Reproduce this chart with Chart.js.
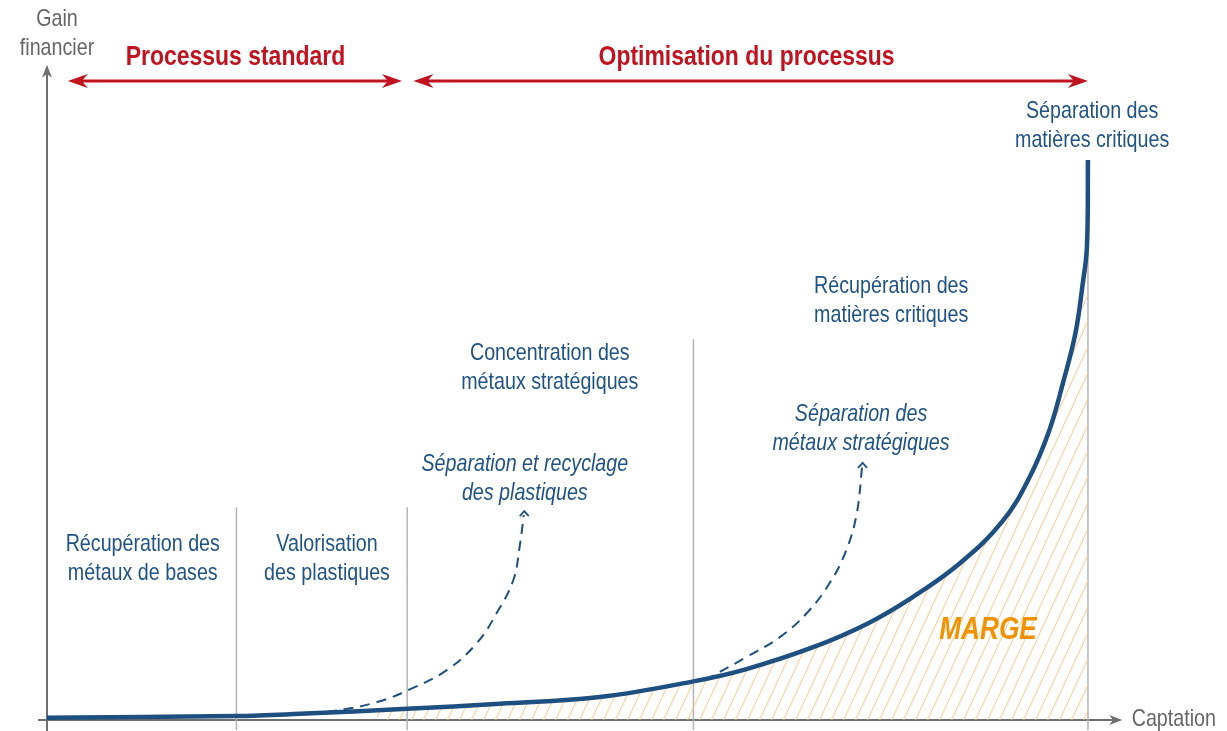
<!DOCTYPE html>
<html>
<head>
<meta charset="utf-8">
<script src="https://cdn.jsdelivr.net/npm/chart.js@4.4.0/dist/chart.umd.min.js"></script>
<style>
  html, body { margin: 0; padding: 0; background: #fff; }
</style>
</head>
<body>
<canvas id="Chart" width="1227" height="731"></canvas>
<script>
// Main curve: captation (x) vs gain financier (y), arbitrary units 0-100
const captation = [0, 18.2, 24.3, 34.6, 43.5, 53.1, 62.1, 67.2, 73.6, 78.8, 83.2, 87.7, 91.8, 94.4, 96.3, 97.6, 98.8, 99.5, 99.9, 100];
const gain      = [0.4, 0.7, 1.1, 2.0, 2.9, 4.1, 6.9, 9.1, 13.0, 17.2, 22.0, 28.0, 35.5, 43.4, 51.8, 60.2, 69.1, 78.0, 84.5, 100];

// Margin (hatched) area starts a bit before the 2nd phase boundary
const margeStart = { x: 31.7, y: 1.7 };

// Dashed branches (plastics / strategic metals)
const plastiquesX = [23.6, 27.5, 31.7, 34.9, 38.4, 41.3, 43.2, 44.8, 45.4, 45.8];
const plastiquesY = [1.1, 1.6, 3.2, 5.5, 8.9, 13.75, 19.1, 25.0, 30.9, 36.6];
const metauxX = [63.2, 67.2, 70.4, 73.0, 75.2, 76.8, 77.8, 78.3];
const metauxY = [7.1, 11.25, 14.8, 19.1, 24.5, 30.4, 37.0, 45.2];

// Phase boundaries (vertical separators) and their heights
const phaseBounds = [18.2, 34.6, 62.1, 100];
const phaseTops   = [38, 38, 68, 84];

// Texts
const axisY = ['Gain', 'financier'];
const axisX = 'Captation';
const phases = ['Processus standard', 'Optimisation du processus'];
const steps = [
  ['Récupération des', 'métaux de bases'],
  ['Valorisation', 'des plastiques'],
  ['Concentration des', 'métaux stratégiques'],
  ['Récupération des', 'matières critiques'],
  ['Séparation des', 'matières critiques']
];
const branches = [
  ['Séparation et recyclage', 'des plastiques'],
  ['Séparation des', 'métaux stratégiques']
];
const margeLabel = 'MARGE';

// ---- layout (data coordinates) ----
const stepPos   = [[9.2, 31.4], [26.9, 31.4], [48.3, 65.5], [81.1, 77.5], [100.4, 108.6]];
const branchPos = [[45.9, 45.7], [78.2, 54.6]];
const phasePos  = [[18.1, 118.4], [67.2, 118.4]];
const phaseArrows = [[2.0, 34.1], [35.2, 100]];

const FONT = '"Liberation Sans", Arial, sans-serif';
const NARROW = 0.82; // Arial Narrow look
const BLUE = '#1d4f80';
const TEXT_BLUE = '#1f5285';
const RED = '#c1121f';
const GRAY = '#6f6f6f';
const ORANGE = '#f39200';

const toPts = (xs, ys) => xs.map((x, i) => ({ x: x, y: ys[i] }));

function hatchPattern() {
  const c = document.createElement('canvas');
  c.width = 12; c.height = 26;
  const g = c.getContext('2d');
  g.strokeStyle = '#fac88a';
  g.lineWidth = 1;
  [-12, 0, 12].forEach(dx => {
    g.beginPath();
    g.moveTo(dx, 26);
    g.lineTo(dx + 12, 0);
    g.stroke();
  });
  return g.createPattern(c, 'repeat');
}

function stealth(ctx, x, y, angle, len, half) {
  ctx.save();
  ctx.translate(x, y);
  ctx.rotate(angle);
  ctx.beginPath();
  ctx.moveTo(0, 0);
  ctx.lineTo(-len, -half);
  ctx.lineTo(-len * 0.7, 0);
  ctx.lineTo(-len, half);
  ctx.closePath();
  ctx.fill();
  ctx.restore();
}

function narrowText(ctx, text, x, y, align) {
  ctx.save();
  ctx.translate(x, y);
  ctx.scale(NARROW, 1);
  ctx.textAlign = align || 'center';
  ctx.fillText(text, 0, 0);
  ctx.restore();
}

const schemaPlugin = {
  id: 'schema',
  beforeDatasetsDraw(chart) {
    const ctx = chart.ctx;
    const x = chart.scales.x, y = chart.scales.y;
    const x0 = x.getPixelForValue(0), y0 = y.getPixelForValue(0);
    ctx.save();
    ctx.strokeStyle = GRAY;
    ctx.fillStyle = GRAY;
    ctx.lineWidth = 2;
    // y axis
    const yTip = y.getPixelForValue(117);
    ctx.beginPath();
    ctx.moveTo(x0, y0 + 11);
    ctx.lineTo(x0, yTip + 8);
    ctx.stroke();
    stealth(ctx, x0, yTip, -Math.PI / 2, 13, 5);
    // x axis
    const xTip = x.getPixelForValue(103) + 3;
    ctx.beginPath();
    ctx.moveTo(x0 - 9, y0);
    ctx.lineTo(xTip - 8, y0);
    ctx.stroke();
    stealth(ctx, xTip, y0, 0, 13, 5);
    ctx.restore();
  },
  afterDatasetsDraw(chart) {
    const ctx = chart.ctx;
    const x = chart.scales.x, y = chart.scales.y;
    const px = v => x.getPixelForValue(v), py = v => y.getPixelForValue(v);
    ctx.save();
    ctx.textBaseline = 'middle';

    // axis titles
    ctx.fillStyle = '#666';
    ctx.font = '24px ' + FONT;
    narrowText(ctx, axisY[0], px(0.96), 19);
    narrowText(ctx, axisY[1], px(0.96), 48);
    narrowText(ctx, axisX, px(104.2), py(0.1), 'left');

    // phase arrows + titles
    ctx.fillStyle = RED;
    ctx.strokeStyle = RED;
    ctx.lineWidth = 3;
    phaseArrows.forEach(a => {
      const l = px(a[0]), r = px(a[1]), yy = py(114.1);
      ctx.beginPath();
      ctx.moveTo(l + 12, yy);
      ctx.lineTo(r - 12, yy);
      ctx.stroke();
      stealth(ctx, l, yy, Math.PI, 20, 7);
      stealth(ctx, r, yy, 0, 20, 7);
    });
    ctx.font = 'bold 28px ' + FONT;
    phases.forEach((t, i) => narrowText(ctx, t, px(phasePos[i][0]), py(phasePos[i][1])));

    // step labels
    ctx.fillStyle = TEXT_BLUE;
    ctx.font = '24px ' + FONT;
    const lh = 29 / 5.6;
    steps.forEach((t, i) => {
      narrowText(ctx, t[0], px(stepPos[i][0]), py(stepPos[i][1]));
      narrowText(ctx, t[1], px(stepPos[i][0]), py(stepPos[i][1] - lh));
    });
    ctx.font = 'italic 24px ' + FONT;
    branches.forEach((t, i) => {
      narrowText(ctx, t[0], px(branchPos[i][0]), py(branchPos[i][1]));
      narrowText(ctx, t[1], px(branchPos[i][0]), py(branchPos[i][1] - lh));
    });

    // arrow tips of dashed branches
    ctx.strokeStyle = BLUE;
    ctx.lineWidth = 1.8;
    [[plastiquesX, plastiquesY], [metauxX, metauxY]].forEach(b => {
      const tx = px(b[0][b[0].length - 1]) + 0.5, ty = py(b[1][b[1].length - 1]) - 4;
      ctx.beginPath();
      ctx.moveTo(tx - 4.5, ty + 5);
      ctx.lineTo(tx, ty);
      ctx.lineTo(tx + 4.5, ty + 5);
      ctx.stroke();
    });

    // marge label
    ctx.fillStyle = ORANGE;
    ctx.font = 'italic bold 32px ' + FONT;
    narrowText(ctx, margeLabel, px(90.4), py(16.1));
    ctx.restore();
  }
};

const margePts = [margeStart].concat(toPts(captation, gain).filter(p => p.x > margeStart.x));

const separatorSets = phaseBounds.map((b, i) => ({
  data: [{ x: b, y: -1.8 }, { x: b, y: phaseTops[i] }],
  borderColor: '#b4b4b4',
  borderWidth: 1.5,
  showLine: true,
  pointRadius: 0,
  clip: false,
  order: 4
}));

const ctx = document.getElementById('Chart').getContext('2d');
const myChart = new Chart(ctx, {
  type: 'scatter',
  data: {
    datasets: [
      {
        data: toPts(captation, gain),
        borderColor: BLUE,
        borderWidth: 4.5,
        showLine: true,
        pointRadius: 0,
        tension: 0.4,
        clip: false,
        order: 1
      },
      {
        data: toPts(plastiquesX, plastiquesY),
        borderColor: BLUE,
        borderWidth: 2,
        borderDash: [10, 7],
        showLine: true,
        pointRadius: 0,
        tension: 0.4,
        order: 2
      },
      {
        data: toPts(metauxX, metauxY),
        borderColor: BLUE,
        borderWidth: 2,
        borderDash: [10, 7],
        showLine: true,
        pointRadius: 0,
        tension: 0.4,
        order: 2
      },
      {
        data: margePts,
        borderWidth: 0,
        borderColor: 'rgba(0,0,0,0)',
        backgroundColor: hatchPattern(),
        fill: 'origin',
        showLine: true,
        pointRadius: 0,
        tension: 0.4,
        order: 3
      }
    ].concat(separatorSets)
  },
  options: {
    responsive: false,
    animation: false,
    layout: { padding: { left: 47, right: 107.8, top: 59.2, bottom: 11 } },
    plugins: {
      legend: { display: false },
      tooltip: { enabled: false }
    },
    scales: {
      x: { type: 'linear', min: 0, max: 103, display: false },
      y: { type: 'linear', min: 0, max: 118, display: false }
    }
  },
  plugins: [schemaPlugin]
});
</script>
</body>
</html>
